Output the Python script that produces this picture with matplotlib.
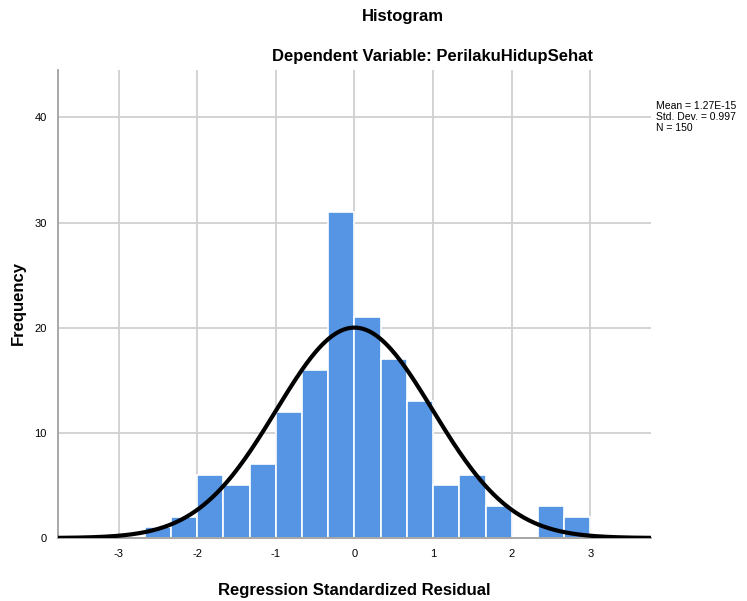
import numpy as np
import matplotlib.pyplot as plt

plt.rcParams['font.family'] = ['Liberation Sans', 'DejaVu Sans']

# histogram bins (left edges, width 1/3) and counts
bin_left = [-8/3, -7/3, -2, -5/3, -4/3, -1, -2/3, -1/3, 0, 1/3, 2/3, 1, 4/3, 5/3, 2, 7/3, 8/3]
counts = [1, 2, 6, 5, 7, 12, 16, 31, 21, 17, 13, 5, 6, 3, 0, 3, 2]
bin_width = 1/3

mean = 1.27e-15
std = 0.997
n = 150

xticks = [-3, -2, -1, 0, 1, 2, 3]
yticks = [0, 10, 20, 30, 40]

fig = plt.figure(figsize=(7.47, 6.01), dpi=100)
ax = fig.add_axes([0.0776, 0.1048, 0.7939, 0.7787])

ax.bar(bin_left, counts, width=bin_width, align='edge', color='#5694e4',
       edgecolor='white', linewidth=1.2, zorder=2)

# fitted normal curve
xs = np.linspace(-3.77, 3.77, 400)
pdf = np.exp(-0.5 * ((xs - mean) / std) ** 2) / (std * np.sqrt(2 * np.pi))
ax.plot(xs, n * bin_width * pdf, color='black', lw=3, zorder=3,
        solid_capstyle='butt')

ax.set_xlim(-3.77, 3.77)
ax.set_ylim(0, 44.5)
ax.set_xticks(xticks)
ax.set_yticks(yticks)
ax.set_xticklabels([str(t) for t in xticks], fontsize=8)
ax.set_yticklabels([str(t) for t in yticks], fontsize=8)
ax.tick_params(length=0, pad=8)
ax.grid(True, color='#d0d0d0', lw=1.3, zorder=0)
ax.set_axisbelow(True)
for s in ['top', 'right']:
    ax.spines[s].set_visible(False)
ax.spines['left'].set_color('#a0a0a0')
ax.spines['bottom'].set_color('#a0a0a0')
ax.spines['left'].set_linewidth(1.3)
ax.spines['bottom'].set_linewidth(1.3)

fig.text(354/747, 1 - 590/601, 'Regression Standardized Residual', ha='center',
         va='center', fontsize=12, fontweight='bold')
fig.text(18/747, 1 - 303/601, 'Frequency', ha='center', va='center',
         rotation=90, fontsize=12, fontweight='bold')

fig.text(403/747, 1 - 17/601, 'Histogram', ha='center', va='center',
         fontsize=12, fontweight='bold')
fig.text(432/747, 1 - 56/601, 'Dependent Variable: PerilakuHidupSehat', ha='center',
         va='center', fontsize=12, fontweight='bold')
fig.text(656/747, 1 - 101/601,
         'Mean = 1.27E-15\nStd. Dev. = 0.997\nN = %d' % n,
         ha='left', va='top', fontsize=7.5, linespacing=1.15)

fig.savefig('out.png', dpi=100)
